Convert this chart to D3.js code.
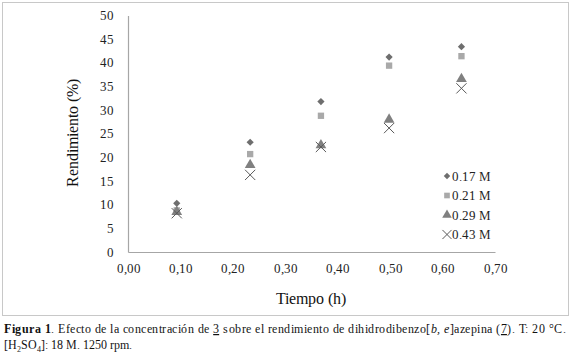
<!DOCTYPE html>
<html><head>
<meta charset="utf-8">
<script src="https://cdn.jsdelivr.net/npm/d3@7"></script>
<style>
@font-face { font-family: "RSerif"; src: local("Liberation Serif"), local("LiberationSerif"), local("Tinos"); font-weight: normal; font-style: normal; }
@font-face { font-family: "RSerif"; src: local("Liberation Serif Bold"), local("LiberationSerif-Bold"); font-weight: bold; font-style: normal; }
@font-face { font-family: "RSerif"; src: local("Liberation Serif Italic"), local("LiberationSerif-Italic"); font-weight: normal; font-style: italic; }
body { margin: 0; background: #fff; }
svg { display: block; }
</style>
</head><body>
<svg id="c" width="571" height="353"></svg>
<script>
const times = [0.093, 0.233, 0.368, 0.498, 0.636];
const seriesNames = ["0.17 M", "0.21 M", "0.29 M", "0.43 M"];
const s017 = [10.3, 23.2, 31.8, 41.2, 43.4];
const s021 = [8.8, 20.7, 28.8, 39.4, 41.4];
const s029 = [8.5, 18.4, 22.6, 28.0, 36.6];
const s043 = [8.2, 16.3, 22.2, 26.2, 34.6];
const xTicks = [0, 0.1, 0.2, 0.3, 0.4, 0.5, 0.6, 0.7];
const yTicks = [0, 5, 10, 15, 20, 25, 30, 35, 40, 45, 50];

const FF = '"RSerif", "Liberation Serif", Tinos, "Times New Roman", serif';
function serif(sel, size) {
  return sel.style("font-family", FF).style("font-size", size + "px");
}

const svg = d3.select("#c");
svg.append("rect").attr("x",2.5).attr("y",2.5).attr("width",566).attr("height",313)
  .attr("fill","none").attr("stroke","#c8c8c8").attr("stroke-width",1);

const x = d3.scaleLinear().domain([0,0.7]).range([128,495]);
const y = d3.scaleLinear().domain([0,50]).range([252,15.5]);

const g = svg.append("g");
const xa = g.append("g").attr("transform","translate(0,252)")
  .call(d3.axisBottom(x).tickValues(xTicks).tickSize(0).tickPadding(12)
    .tickFormat(d => d3.format(".2f")(d).replace(".", ",")));
const ya = g.append("g").attr("transform","translate(128,0)")
  .call(d3.axisLeft(y).tickValues(yTicks).tickSize(0).tickPadding(14));
[xa, ya].forEach(a => {
  a.attr("font-family", null).attr("font-size", null);
  a.select(".domain").attr("stroke","#a6a6a6").attr("stroke-width",1.2);
  serif(a.selectAll("text"), 12.5).attr("fill","#222");
});

serif(svg.append("text").attr("x",311).attr("y",304).attr("text-anchor","middle")
  .attr("fill","#111").text("Tiempo (h)"), 16);
serif(svg.append("text").attr("transform","translate(78,133) rotate(-90)").attr("text-anchor","middle")
  .attr("fill","#111").text("Rendimiento (%)"), 16);

const series = [
  {name: seriesNames[0], vals: s017, sym: d3.symbolSquare, size: 26, rot: 45, fill: "#6e6e6e"},
  {name: seriesNames[1], vals: s021, sym: d3.symbolSquare, size: 40, rot: 0, fill: "#a9a9a9"},
  {name: seriesNames[2], vals: s029, sym: d3.symbolTriangle, size: 50, rot: 0, fill: "#808080"},
  {name: seriesNames[3], vals: s043, sym: d3.symbolX, size: 70, rot: 0, fill: "none", stroke: "#5a5a5a"}
];

series.forEach((s,i) => {
  g.append("g").selectAll("path").data(s.vals).join("path")
    .attr("transform",(d,j)=>`translate(${x(times[j])},${y(d)}) rotate(${s.rot})`)
    .attr("d", d3.symbol().type(s.sym).size(s.size)())
    .attr("fill", s.fill).attr("stroke", s.stroke || "none").attr("stroke-width", 1);
});

const lg = svg.append("g");
series.forEach((s,i) => {
  const ly = 176 + i*19.5;
  lg.append("path").attr("transform",`translate(447,${ly}) rotate(${s.rot})`)
    .attr("d", d3.symbol().type(s.sym).size(s.size*0.8)())
    .attr("fill", s.fill).attr("stroke", s.stroke || "none").attr("stroke-width",1);
  serif(lg.append("text").attr("x",452).attr("y",ly+4.5).attr("fill","#222").text(s.name), 13);
});

const cap = serif(svg.append("text").attr("x",4).attr("y",333).attr("fill","#111"), 12.2)
  .attr("textLength", 562).attr("lengthAdjust","spacing");
cap.append("tspan").style("font-weight","bold").text("Figura 1");
cap.append("tspan").text(". Efecto de la concentración de ");
cap.append("tspan").style("text-decoration","underline").text("3");
cap.append("tspan").text(" sobre el rendimiento de dihidrodibenzo[");
cap.append("tspan").style("font-style","italic").text("b, e");
cap.append("tspan").text("]azepina (");
cap.append("tspan").style("text-decoration","underline").text("7");
cap.append("tspan").text("). T: 20 °C.");
const cap2 = serif(svg.append("text").attr("x",4).attr("y",349).attr("fill","#111"), 12.2);
cap2.append("tspan").text("[H");
cap2.append("tspan").style("font-size","8px").attr("dy",3).text("2");
cap2.append("tspan").attr("dy",-3).text("SO");
cap2.append("tspan").style("font-size","8px").attr("dy",3).text("4");
cap2.append("tspan").attr("dy",-3).text("]: 18 M. 1250 rpm.");
</script>
</body></html>
